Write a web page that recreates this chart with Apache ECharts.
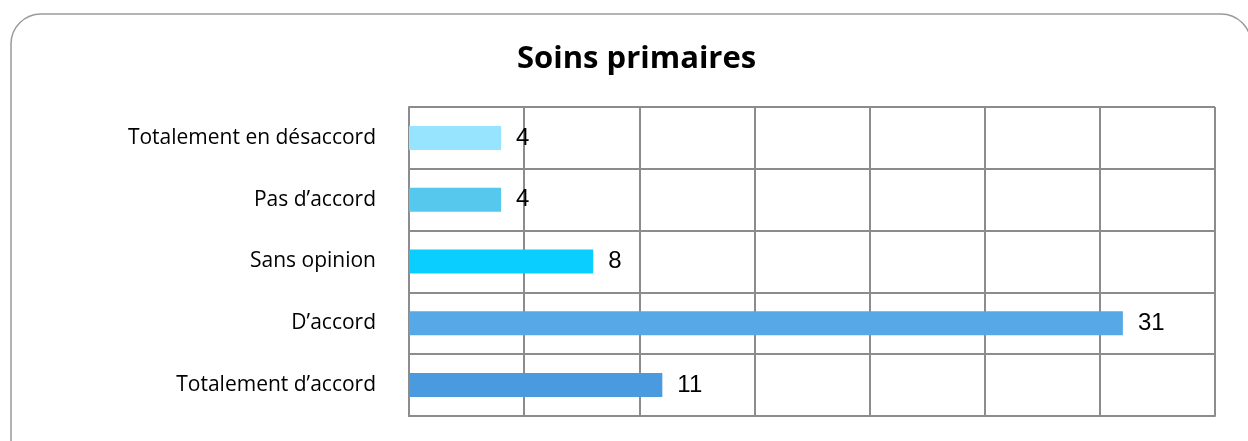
<!DOCTYPE html>
<html>
<head>
<meta charset="utf-8">
<script src="https://cdn.jsdelivr.net/npm/echarts@6/dist/echarts.min.js"></script>
<style>
html,body{margin:0;padding:0;background:#fff;}
#chart{width:1248px;height:441px;}
</style>
</head>
<body>
<div id="chart"></div>
<script>
const title = 'Soins primaires';
const categories = ['Totalement d’accord', 'D’accord', 'Sans opinion', 'Pas d’accord', 'Totalement en désaccord'];
const values = [11, 31, 8, 4, 4];
const barColors = ['#4A9ADF', '#56A9E6', '#0ACEFF', '#56C8EE', '#97E4FF'];
const xMin = 0, xMax = 35, xInterval = 5;

const chart = echarts.init(document.getElementById('chart'), null, {renderer: 'canvas'});
chart.setOption({
  animation: false,
  backgroundColor: '#fff',
  title: {
    text: title,
    left: 512,
    top: 39,
    textStyle: {fontFamily: 'Open Sans', fontWeight: 'bold', fontSize: 31, color: '#000'}
  },
  graphic: [{
    type: 'rect',
    shape: {x: 11, y: 14, width: 1240, height: 460, r: 30},
    style: {fill: 'none', stroke: '#9a9a9a', lineWidth: 1.5},
    silent: true,
    z: -1
  }],
  grid: {left: 409, right: 33, top: 107, bottom: 25, containLabel: false},
  xAxis: {
    type: 'value', min: xMin, max: xMax, interval: xInterval,
    axisLabel: {show: false},
    axisTick: {show: false},
    axisLine: {show: true, lineStyle: {color: '#8c8c8c', width: 2}},
    splitLine: {show: true, lineStyle: {color: '#8c8c8c', width: 2}}
  },
  yAxis: {
    type: 'category',
    data: categories,
    boundaryGap: true,
    axisTick: {show: false},
    axisLine: {show: true, lineStyle: {color: '#8c8c8c', width: 2}},
    splitLine: {show: true, lineStyle: {color: '#8c8c8c', width: 2}},
    axisLabel: {margin: 33, fontFamily: 'Open Sans', fontSize: 21, color: '#000'}
  },
  series: [{
    type: 'bar',
    data: values.map((v, i) => ({value: v, itemStyle: {color: barColors[i]}})),
    barWidth: 24,
    label: {
      show: true, position: 'right', distance: 15,
      fontFamily: 'Liberation Sans', fontSize: 24, color: '#000'
    }
  }]
});
</script>
</body>
</html>
